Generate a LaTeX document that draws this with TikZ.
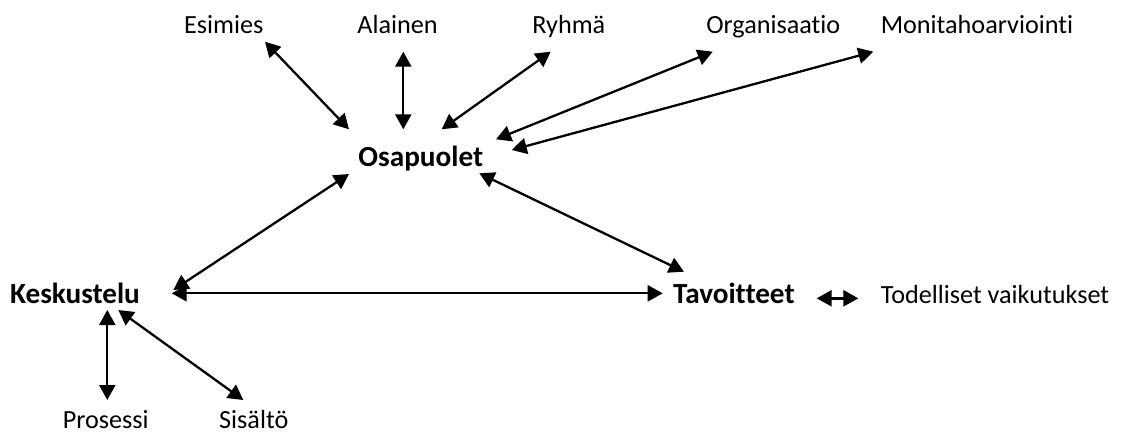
\documentclass[tikz,border=0pt]{standalone}
\usepackage{fontspec}
\setmainfont{Carlito}[Ligatures=NoCommon]
\usetikzlibrary{arrows.meta}
\tikzset{
  lbl/.style={inner sep=0pt, anchor=base, font=\fontsize{13.1}{15}\selectfont},
  key/.style={inner sep=0pt, anchor=base, font=\fontsize{14.6}{17}\selectfont\bfseries},
  link/.style={line width=1.15pt, {Triangle[length=7.5pt,width=8pt]}-{Triangle[length=7.5pt,width=8pt]}},
  stub/.style={line width=1.4pt, {Triangle[length=7.5pt,width=8pt]}-{Triangle[length=7.5pt,width=8pt]}}
}
\begin{document}
\begin{tikzpicture}[x=0.5pt,y=-0.5pt]
\useasboundingbox (0,0) rectangle (1123,441);

% participants
\node[lbl] (esimies) at (223.8,33.3) {Esimies};
\node[lbl] (alainen) at (397.5,33.3) {Alainen};
\node[lbl] (ryhma) at (568.8,33.3) {Ryhmä};
\node[lbl] (org) at (773.3,33.3) {Organisaatio};
\node[lbl] (moni) at (977,33.3) {Monitahoarviointi};

% main concepts
\node[key] (osa) at (420.8,166.7) {Osapuolet};
\node[key] (kesk) at (75,303.3) {Keskustelu};
\node[key] (tav) at (733.8,303.3) {Tavoitteet};
\node[lbl] (tod) at (995,303.3) {Todelliset vaikutukset};

% aspects of the discussion
\node[lbl] (pros) at (105.8,428.3) {Prosessi};
\node[lbl] (sis) at (253.8,428.3) {Sisältö};

% participants to Osapuolet
\draw[link] ([shift={(41.2,8.4)}]esimies.base) -- ([shift={(-71.8,-37.4)}]osa.base);
\draw[link] ([shift={(5.8,18.4)}]alainen.base) -- ([shift={(-17.5,-37.4)}]osa.base);
\draw[link] ([shift={(-18.1,18.4)}]ryhma.base) -- ([shift={(20.9,-37.4)}]osa.base);
\draw[link] ([shift={(-60.6,18.4)}]org.base) -- ([shift={(75.2,-27.4)}]osa.base);
\draw[link] ([shift={(-103.7,18.4)}]moni.base) -- ([shift={(90.9,-16.7)}]osa.base);

% triangle of main concepts
\draw[link] ([shift={(-71.8,7.3)}]osa.base) -- ([shift={(98.3,-13.3)}]kesk.base);
\draw[link] ([shift={(58.5,6.6)}]osa.base) -- ([shift={(-49.8,-31.6)}]tav.base);
\draw[link] ([shift={(96.7,-10)}]kesk.base) -- ([shift={(-71.1,-10)}]tav.base);

% Keskustelu to its aspects
\draw[link] ([shift={(32.3,6.7)}]kesk.base) -- ([shift={(1.5,-28.3)}]pros.base);
\draw[link] ([shift={(43.3,6.7)}]kesk.base) -- ([shift={(-10.5,-28.3)}]sis.base);

% Tavoitteet to real effects
\draw[stub] ([shift={(82.9,-5)}]tav.base) -- ([shift={(-136.7,-5)}]tod.base);
\end{tikzpicture}
\end{document}
